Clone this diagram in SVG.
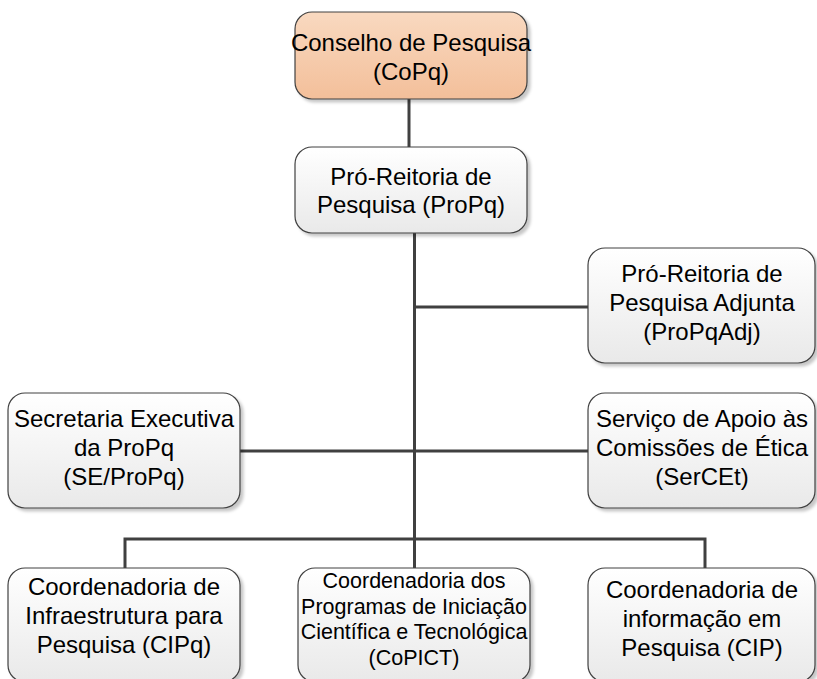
<svg xmlns="http://www.w3.org/2000/svg" width="817" height="679" viewBox="0 0 817 679">
  <defs>
    <linearGradient id="gGray" x1="0" y1="0" x2="0" y2="1">
      <stop offset="0" stop-color="#ffffff"/>
      <stop offset="1" stop-color="#e9e9e9"/>
    </linearGradient>
    <linearGradient id="gPeach" x1="0" y1="0" x2="0" y2="1">
      <stop offset="0" stop-color="#f9d9c0"/>
      <stop offset="1" stop-color="#f3bf9a"/>
    </linearGradient>
    <filter id="sh" x="-10%" y="-10%" width="130%" height="130%">
      <feDropShadow dx="3" dy="3" stdDeviation="1.5" flood-color="#000" flood-opacity="0.22"/>
    </filter>
  </defs>
  <style>
    .box { fill: url(#gGray); stroke: #404040; stroke-width: 1.2; filter: url(#sh); }
    .top { fill: url(#gPeach); }
    .t { font-family: "Liberation Sans", Arial, sans-serif; font-size: 24px; fill: #000; text-anchor: middle; }
    .s { font-size: 21.5px; }
    .c { stroke: #404040; stroke-width: 3; fill: none; }
  </style>
  <rect width="817" height="679" fill="#ffffff"/>

  <g id="connectors">
    <line class="c" x1="409" y1="99" x2="409" y2="147"/>
    <line class="c" x1="414.5" y1="233" x2="414.5" y2="568"/>
    <line class="c" x1="414.5" y1="307" x2="588" y2="307"/>
    <line class="c" x1="240" y1="451" x2="588" y2="451"/>
    <polyline class="c" points="125,568 125,539 705,539 705,568"/>
  </g>

  <g id="copq">
    <rect class="box top" x="295" y="12" width="232" height="87" rx="17"/>
    <text class="t" x="411" y="51">Conselho de Pesquisa</text>
    <text class="t" x="411" y="80">(CoPq)</text>
  </g>

  <g id="propq">
    <rect class="box" x="295" y="147" width="232" height="86" rx="17"/>
    <text class="t" x="411" y="185">Pró-Reitoria de</text>
    <text class="t" x="411" y="213">Pesquisa (ProPq)</text>
  </g>

  <g id="propqadj">
    <rect class="box" x="588" y="248" width="227" height="115" rx="17"/>
    <text class="t" x="702" y="282">Pró-Reitoria de</text>
    <text class="t" x="702" y="311">Pesquisa Adjunta</text>
    <text class="t" x="702" y="340">(ProPqAdj)</text>
  </g>

  <g id="se-propq">
    <rect class="box" x="8" y="393" width="232" height="115" rx="17"/>
    <text class="t" x="124" y="427">Secretaria Executiva</text>
    <text class="t" x="124" y="456">da ProPq</text>
    <text class="t" x="124" y="485">(SE/ProPq)</text>
  </g>

  <g id="sercet">
    <rect class="box" x="588" y="393" width="227" height="115" rx="17"/>
    <text class="t" x="702" y="427">Serviço de Apoio às</text>
    <text class="t" x="702" y="456">Comissões de Ética</text>
    <text class="t" x="702" y="485">(SerCEt)</text>
  </g>

  <g id="cipq">
    <rect class="box" x="8" y="568" width="232" height="114" rx="17"/>
    <text class="t" x="124" y="595">Coordenadoria de</text>
    <text class="t" x="124" y="624">Infraestrutura para</text>
    <text class="t" x="124" y="653">Pesquisa (CIPq)</text>
  </g>

  <g id="copict">
    <rect class="box" x="298" y="568" width="232" height="114" rx="17"/>
    <text class="t s" x="414" y="588">Coordenadoria dos</text>
    <text class="t s" x="414" y="613.5">Programas de Iniciação</text>
    <text class="t s" x="414" y="639">Científica e Tecnológica</text>
    <text class="t s" x="414" y="664.5">(CoPICT)</text>
  </g>

  <g id="cip">
    <rect class="box" x="588" y="568" width="227" height="114" rx="17"/>
    <text class="t" x="702" y="598">Coordenadoria de</text>
    <text class="t" x="702" y="627">informação em</text>
    <text class="t" x="702" y="656">Pesquisa (CIP)</text>
  </g>
</svg>
